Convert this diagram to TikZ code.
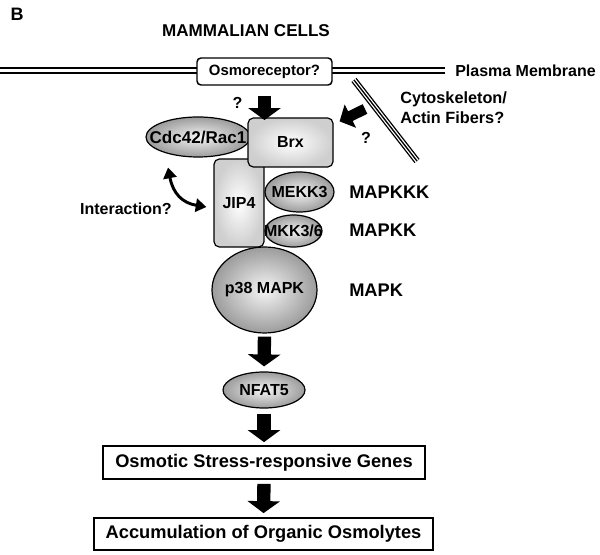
\documentclass[tikz,border=0pt]{standalone}
\usepackage{fontspec}
\setmainfont{Liberation Sans}
\usetikzlibrary{arrows.meta,calc,shapes.geometric}
\newcommand\zw[1]{\makebox[0pt]{#1}}
\tikzset{
  every node/.style={font=\bfseries\fontsize{12}{14}\selectfont},
  lbl/.style={inner sep=0pt},
  bigtxt/.style={font=\bfseries\fontsize{13.7}{16}\selectfont},
  greyoval/.style={ellipse, draw, line width=0.9pt, inner sep=0pt, inner color=gray!8, outer color=gray!78},
  lightbox/.style={rectangle, draw, line width=0.9pt, rounded corners=4pt, inner sep=0pt, inner color=white, outer color=gray!38},
  outbox/.style={rectangle, draw, line width=1.3pt, inner sep=0pt, fill=white, bigtxt},
  blockarrow/.style={line width=10pt, -{Triangle[width=24pt,length=9pt]}},
  membrane/.style={line width=1.3pt, double, double distance=2.5pt},
  tiparrow/.tip={Triangle[width=10pt,length=8pt]},
}
\begin{document}
\begin{tikzpicture}[x=0.75pt,y=-0.75pt]
\useasboundingbox (0,0) rectangle (600,555);
% titles
\node[lbl, font=\bfseries\fontsize{13.5}{15}\selectfont] (panel) at (17,14) {B};
\node[lbl, font=\bfseries\fontsize{12.8}{15}\selectfont] (title) at (246,31) {MAMMALIAN CELLS};
% membrane
\coordinate (memL) at (0,70.5);
\coordinate (memR) at (445,70.5);
\draw[membrane] (memL) -- (memR);
\node[rectangle, draw, line width=1.1pt, rounded corners=3pt, fill=white, inner sep=0pt,
      minimum width=135*0.75pt, minimum height=27*0.75pt,
      font=\bfseries\fontsize{11.2}{13}\selectfont] (osmo) at (264.5,71.5) {Osmoreceptor?};
\node[lbl, anchor=west] (pm) at (455,71) {Plasma Membrane};
% cytoskeleton
\coordinate (cytoA) at (354,80);
\coordinate (cytoB) at (417,161);
\draw[line width=4.9pt] (cytoA) -- (cytoB);
\draw[white, line width=2.9pt] (cytoA) -- (cytoB);
\draw[line width=1pt] (cytoA) -- (cytoB);
\node[lbl, anchor=west, align=left, font=\bfseries\fontsize{12.2}{15}\selectfont] (cyto) at (400,108) {Cytoskeleton/\\Actin Fibers?};
% proteins
\node[greyoval, minimum width=104*0.75pt, minimum height=40*0.75pt,
      font=\bfseries\fontsize{12.8}{14}\selectfont] (cdc) at (198,137) {\zw{Cdc42/Rac1}};
\node[lightbox, minimum width=50*0.75pt, minimum height=88*0.75pt] (jip) at (239,203) {JIP4};
\node[lightbox, minimum width=85*0.75pt, minimum height=49*0.75pt] (brx) at (290.5,142.5) {Brx};
\node[greyoval, minimum width=69*0.75pt, minimum height=40*0.75pt] (mekk) at (299.5,192) {\zw{MEKK3}};
\node[greyoval, minimum width=57*0.75pt, minimum height=32*0.75pt] (mkk) at (293.5,231) {\zw{MKK3/6}};
\node[greyoval, minimum width=105*0.75pt, minimum height=86*0.75pt] (p38) at (264.5,290) {\zw{p38 MAPK}};
\node[greyoval, minimum width=82*0.75pt, minimum height=36*0.75pt] (nfat) at (264,390) {\zw{NFAT5}};
% outputs
\node[outbox, minimum width=322*0.75pt, minimum height=33*0.75pt] (genes) at (264,462.5) {Osmotic Stress-responsive Genes};
\node[outbox, minimum width=339*0.75pt, minimum height=32*0.75pt] (accum) at (263.5,534) {Accumulation of Organic Osmolytes};
% level labels
\node[lbl, bigtxt, anchor=west] (l1) at (349,192) {MAPKKK};
\node[lbl, bigtxt, anchor=west] (l2) at (349,230) {MAPKK};
\node[lbl, bigtxt, anchor=west] (l3) at (349,290) {MAPK};
\node[lbl, anchor=east] (inter) at (172,209) {Interaction?};
% question marks
\node[lbl] (q1) at (237.5,102.5) {?};
\node[lbl] (q2) at (366,137.5) {?};
% block arrows
\draw[blockarrow, shorten <=7.5pt, shorten >=-2pt] (osmo.south) -- (osmo.south |- brx.north);
\draw[blockarrow, shorten <=2.25pt, shorten >=3.75pt] (p38.south) -- (nfat.north);
\draw[blockarrow, shorten <=3.75pt, shorten >=2.25pt] (nfat.south) -- (genes.north);
\draw[blockarrow, shorten <=3pt, shorten >=3pt] (genes.south) -- (accum.north);
\coordinate (cytotail) at (365,109);
\draw[line width=8pt, -{Triangle[width=19pt,length=9pt]}] (cytotail) -- ($(brx.north east)+(6,4)$);
% interaction arrow
\draw[line width=2.2pt, {tiparrow}-{tiparrow}] ($(cdc.south)+(-30,10)$) .. controls +(5,26) and +(-24,-4) .. ($(jip.west)+(-7,4)$);
\end{tikzpicture}
\end{document}
